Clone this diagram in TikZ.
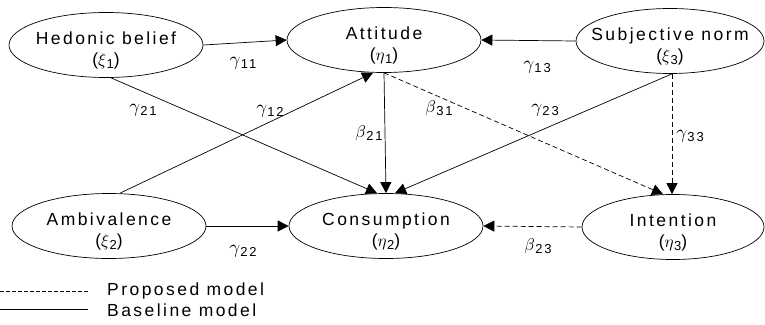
\documentclass[tikz,border=0pt]{standalone}
\usepackage{graphicx}
\usepackage{fontspec}
\setmainfont{Liberation Sans}[LetterSpace=14]
\usetikzlibrary{shapes.geometric,arrows.meta}
\newcommand\symb[3]{\scalebox{#3}{\normalsize$#1$}\kern0.3pt\raisebox{-3.5pt}{\fontsize{13}{13}\selectfont #2}}
\begin{document}
\begin{tikzpicture}[x=1pt,y=-1pt,
  lat/.style={ellipse, draw, line width=0.7pt, minimum width=194pt, minimum height=65pt, inner sep=0pt},
  txt/.style={font=\fontsize{17.5}{21}\selectfont, align=center, inner sep=0pt},
  lab/.style={inner sep=0pt},
  arr/.style={-{Triangle[length=11pt,width=11pt]}, line width=0.7pt},
  dsh/.style={arr, dash pattern=on 5pt off 3pt},
  leg/.style={font=\fontsize{17.5}{20}\selectfont, anchor=west, inner sep=0pt}]
\useasboundingbox (0,0) rectangle (765,324);
% latent variables
\node[lat] (h) at (106,45) {};
\node[txt] (ht) at (106,50) {Hedonic belief\\(\symb{\xi}{1}{1.7})};
\node[lat] (a) at (384,40) {};
\node[txt] (at) at (384,45) {Attitude\\(\symb{\eta}{1}{1.7})};
\node[lat, minimum width=188pt] (s) at (670,41) {};
\node[txt] (st) at (670,46) {Subjective norm\\(\symb{\xi}{3}{1.7})};
\node[lat] (m) at (109,226) {};
\node[txt] (mt) at (109,231) {Ambivalence\\(\symb{\xi}{2}{1.7})};
\node[lat] (c) at (386,226) {};
\node[txt] (ct) at (386,231) {Consumption\\(\symb{\eta}{2}{1.7})};
\node[lat, minimum width=182pt] (i) at (673,227) {};
\node[txt] (it) at (673,232) {Intention\\(\symb{\eta}{3}{1.7})};
% paths
\draw[arr] (h.east) -- (a.west);
\draw[arr] (s.west) -- (a.east);
\draw[arr] ([xshift=5pt]h.south) -- ([xshift=-9pt]c.north);
\draw[arr] ([xshift=11pt]m.north) -- ([xshift=-11pt]a.south);
\draw[arr] (a.south) -- (c.north);
\draw[arr] ([xshift=2pt]s.south) -- ([xshift=9pt]c.north);
\draw[arr] (m.east) -- (c.west);
\draw[dsh] (a.south) -- ([xshift=-10pt]i.north);
\draw[dsh] ([xshift=2pt]s.south) -- ([xshift=-1pt]i.north);
\draw[dsh] (i.west) -- (c.east);
% labels
\node[lab] (g11) at (243,63) {\symb{\gamma}{11}{1.9}};
\node[lab] (g13) at (537,67) {\symb{\gamma}{13}{1.9}};
\node[lab] (g21) at (143,110) {\symb{\gamma}{21}{1.9}};
\node[lab] (g12) at (270,111) {\symb{\gamma}{12}{1.9}};
\node[lab] (b21) at (369,133) {\symb{\beta}{21}{1.7}};
\node[lab] (b31) at (439,108) {\symb{\beta}{31}{1.7}};
\node[lab] (g23) at (545,110) {\symb{\gamma}{23}{1.9}};
\node[lab] (g33) at (690,136) {\symb{\gamma}{33}{1.9}};
\node[lab] (g22) at (243,251) {\symb{\gamma}{22}{1.9}};
\node[lab] (b23) at (538,246) {\symb{\beta}{23}{1.7}};
% legend
\coordinate (l1a) at (0,291);
\coordinate (l1b) at (88,291);
\coordinate (l2a) at (0,309);
\coordinate (l2b) at (88,309);
\draw[line width=0.7pt, dash pattern=on 4pt off 2pt] (l1a) -- (l1b);
\draw[line width=0.7pt] (l2a) -- (l2b);
\node[leg] (p) at (107,291) {Proposed model};
\node[leg] (b) at (107,310) {Baseline model};
\end{tikzpicture}
\end{document}
